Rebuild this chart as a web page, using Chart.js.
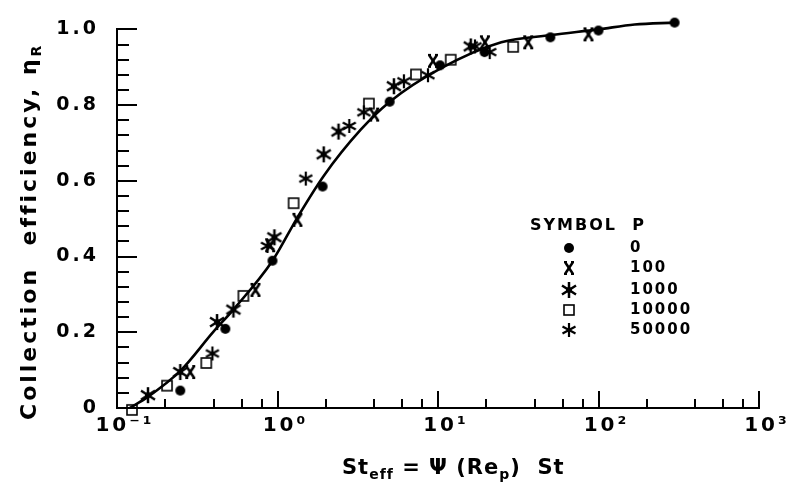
<!DOCTYPE html>
<html>
<head>
<meta charset="utf-8">
<script src="https://cdn.jsdelivr.net/npm/chart.js@4/dist/chart.umd.min.js"></script>
<style>
  html, body { margin: 0; padding: 0; background: #fff; }
</style>
</head>
<body>
<canvas id="chart" width="792" height="492"></canvas>
<script>
// fitted curve
const curveX = [0.12, 0.154, 0.248, 0.398, 0.531, 0.931, 1.33, 1.94, 3.30, 5.01, 10.4, 24.8, 50.8, 100, 168, 298];
const curveY = [0.0, 0.028, 0.098, 0.201, 0.26, 0.389, 0.503, 0.613, 0.735, 0.809, 0.897, 0.966, 0.985, 1.0, 1.013, 1.018];

// measured points, one pair of arrays per P value
const p0X = [0.248, 0.473, 0.93, 1.91, 5.0, 10.3, 19.5, 50.1, 100, 298];
const p0Y = [0.046, 0.209, 0.389, 0.585, 0.809, 0.905, 0.94, 0.979, 0.997, 1.018];

const p100X = [0.286, 0.729, 0.90, 1.33, 4.0, 9.3, 19.6, 36.5, 86.6];
const p100Y = [0.095, 0.312, 0.43, 0.497, 0.775, 0.917, 0.966, 0.966, 0.987];

const p1000X = [0.156, 0.248, 0.42, 0.531, 0.957, 1.94, 2.4, 5.31, 16.0];
const p1000Y = [0.034, 0.095, 0.227, 0.26, 0.451, 0.67, 0.73, 0.85, 0.955];

const p10000X = [0.124, 0.205, 0.36, 0.613, 1.26, 3.71, 7.29, 12.0, 29.4];
const p10000Y = [-0.005, 0.059, 0.119, 0.296, 0.541, 0.804, 0.881, 0.92, 0.954];

const p50000X = [0.393, 0.866, 1.50, 2.8, 3.45, 6.13, 8.66, 17.0, 21.0];
const p50000Y = [0.144, 0.428, 0.606, 0.745, 0.781, 0.863, 0.879, 0.955, 0.94];

const seriesNames = ['0', '100', '1000', '10000', '50000'];
const xTickLabels = {'0.1': '10⁻¹', '1': '10⁰', '10': '10¹', '100': '10²', '1000': '10³'};

// point symbols drawn on small canvases
function makeSymbol(kind) {
    const c = document.createElement('canvas');
    c.width = 18; c.height = 18;
    const g = c.getContext('2d');
    g.translate(9, 9);
    g.strokeStyle = '#000';
    g.fillStyle = '#000';
    const line = (x1, y1, x2, y2) => { g.beginPath(); g.moveTo(x1, y1); g.lineTo(x2, y2); g.stroke(); };
    if (kind === 'dot') {
        g.beginPath(); g.arc(0, 0, 5, 0, Math.PI * 2); g.fill();
    } else if (kind === 'x') {
        g.lineWidth = 2.5;
        line(-4, -6, 4, 6); line(4, -6, -4, 6);
        g.lineWidth = 2;
        line(-5, -6, -2, -6); line(2, -6, 5, -6);
        line(-5, 6, -2, 6); line(2, 6, 5, 6);
    } else if (kind === 'star') {
        g.lineWidth = 2.5;
        line(0, -8, 0, 8);
        line(-7, -4.5, 7, 4.5); line(-7, 4.5, 7, -4.5);
        g.beginPath(); g.arc(0, 0, 3, 0, Math.PI * 2); g.fill();
    } else if (kind === 'square') {
        g.lineWidth = 1.6;
        g.strokeRect(-5, -5, 10, 10);
    } else if (kind === 'asterisk') {
        g.lineWidth = 2.2;
        line(0, -7, 0, 7);
        line(-6.5, -3.5, 6.5, 3.5); line(-6.5, 3.5, 6.5, -3.5);
    }
    return c;
}
const symbols = ['dot', 'x', 'star', 'square', 'asterisk'].map(makeSymbol);

const toPoints = (xs, ys) => xs.map((x, i) => ({x: x, y: ys[i]}));
const seriesX = [p0X, p100X, p1000X, p10000X, p50000X];
const seriesY = [p0Y, p100Y, p1000Y, p10000Y, p50000Y];

const datasets = seriesNames.map((name, i) => ({
    label: 'P = ' + name,
    data: toPoints(seriesX[i], seriesY[i]),
    showLine: false,
    pointStyle: symbols[i],
    pointRadius: 6,
    clip: false
}));
datasets.unshift({
    label: 'curve',
    data: toPoints(curveX, curveY),
    showLine: true,
    borderColor: '#000',
    borderWidth: 2.6,
    pointRadius: 0,
    cubicInterpolationMode: 'monotone',
    clip: false
});

// inward tick marks, axis titles and the symbol key
const decorations = {
    id: 'decorations',
    beforeDraw(chart) {
        chart.ctx.letterSpacing = '3px';
    },
    afterDraw(chart) {
        const ctx = chart.ctx;
        const xs = chart.scales.x, ys = chart.scales.y;
        const a = chart.chartArea;
        ctx.save();
        ctx.strokeStyle = '#000';
        ctx.lineWidth = 2;
        // x ticks: 1, 2, 4, 6, 8 per decade
        for (let d = -1; d <= 3; d++) {
            for (const m of [1, 2, 4, 6, 8]) {
                const v = m * Math.pow(10, d);
                if (v > 1000.001) continue;
                const px = Math.round(xs.getPixelForValue(v));
                const len = m === 1 ? 17 : 9;
                ctx.beginPath(); ctx.moveTo(px, a.bottom); ctx.lineTo(px, a.bottom - len); ctx.stroke();
            }
        }
        // y ticks every 0.04
        for (let k = 0; k <= 25; k++) {
            const py = Math.round(ys.getPixelForValue(k * 0.04));
            const len = k % 5 === 0 ? 20 : 12;
            ctx.beginPath(); ctx.moveTo(a.left, py); ctx.lineTo(a.left + len, py); ctx.stroke();
        }

        ctx.fillStyle = '#000';
        ctx.textBaseline = 'alphabetic';
        // x title
        ctx.letterSpacing = '1px';
        let x = 342;
        const base = 474;
        const put = (t, size, dy) => {
            ctx.font = 'bold ' + size + 'px "DejaVu Sans"';
            ctx.fillText(t, x, base + dy);
            x += ctx.measureText(t).width;
        };
        put('St', 21, 0); put('eff', 14, 5); put(' = Ψ (Re', 21, 0); put('p', 14, 5); put(')  St', 21, 0);

        // y title, rotated
        ctx.save();
        ctx.translate(36, 420);
        ctx.rotate(-Math.PI / 2);
        ctx.letterSpacing = '3px';
        ctx.font = 'bold 22px "DejaVu Sans"';
        const main = 'Collection  efficiency, η';
        ctx.fillText(main, 0, 0);
        const w = ctx.measureText(main).width;
        ctx.font = 'bold 14px "DejaVu Sans"';
        ctx.fillText('R', w, 5);
        ctx.restore();

        // key
        ctx.letterSpacing = '2px';
        ctx.font = 'bold 16px "DejaVu Sans"';
        ctx.textBaseline = 'middle';
        ctx.fillText('SYMBOL  P', 530, 226);
        const rows = [248, 268, 290, 310, 330];
        ctx.font = 'bold 15px "DejaVu Sans"';
        seriesNames.forEach((name, i) => {
            ctx.drawImage(symbols[i], 569 - 9, rows[i] - 9);
            ctx.fillText(name, 630, rows[i]);
        });
        ctx.restore();
    }
};

Chart.defaults.font.family = '"DejaVu Sans"';
Chart.defaults.font.weight = 'bold';
Chart.defaults.color = '#000';

new Chart(document.getElementById('chart'), {
    type: 'scatter',
    data: {datasets: datasets},
    options: {
        responsive: false,
        animation: false,
        devicePixelRatio: 1,
        layout: {padding: {left: 0, right: 33, top: 20, bottom: 0}},
        plugins: {legend: {display: false}, tooltip: {enabled: false}},
        scales: {
            x: {
                type: 'logarithmic',
                min: 0.1,
                max: 1000,
                grid: {display: false, drawTicks: false},
                border: {display: true, color: '#000', width: 2},
                afterBuildTicks: scale => {
                    scale.ticks = [0.1, 1, 10, 100, 1000].map(v => ({value: v}));
                },
                ticks: {
                    font: {size: 20, weight: 'bold'},
                    padding: 6,
                    labelOffset: 8,
                    maxRotation: 0,
                    autoSkip: false,
                    callback: v => xTickLabels[String(v)] || ''
                },
                afterFit: scale => { scale.height = 84; }
            },
            y: {
                min: 0,
                max: 1.0,
                grid: {display: false, drawTicks: false},
                border: {display: true, color: '#000', width: 2},
                ticks: {
                    stepSize: 0.2,
                    font: {size: 19, weight: 'bold'},
                    padding: 18,
                    callback: v => v === 0 ? '0' : v.toFixed(1)
                },
                afterFit: scale => { scale.width = 117; }
            }
        }
    },
    plugins: [decorations]
});
</script>
</body>
</html>
